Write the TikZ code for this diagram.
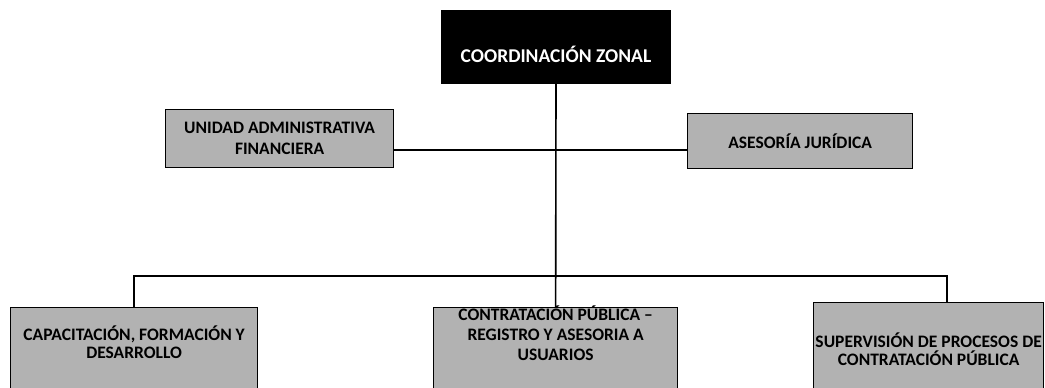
\documentclass[tikz,border=0pt]{standalone}
\usepackage{fontspec}
\setmainfont{Carlito}

\begin{document}
\begin{tikzpicture}[x=1pt,y=-1pt,
    unit/.style={draw=black,line width=1.3pt,fill=black!30,inner xsep=1pt,inner ysep=0pt,
      align=center,font=\fontsize{17.5}{18}\selectfont\bfseries},
    link/.style={draw=black,line width=1.6pt}]
  \useasboundingbox (0,0) rectangle (1045,388);

  \node[unit,fill=black,text=white,minimum width=228pt,minimum height=73pt,
        text height=30pt,text depth=0pt,font=\fontsize{19.5}{20}\selectfont\bfseries]
    (coord) at (556,47) {COORDINACIÓN ZONAL};

  \node[unit,anchor=north west,minimum width=228pt,minimum height=58pt,
        font=\fontsize{17.5}{21}\selectfont\bfseries]
    (uaf) at (165,109) {UNIDAD ADMINISTRATIVA\\FINANCIERA};
  \node[unit,anchor=north west,minimum width=225pt,minimum height=55pt]
    (jur) at (687,113) {ASESORÍA JURÍDICA};

  % bottom row: boxes run past the lower edge
  \node[unit,anchor=north west,minimum width=247pt,text height=51pt,text depth=100pt]
    (cap) at (10,307) {CAPACITACIÓN, FORMACIÓN Y\\DESARROLLO};
  \node[unit,anchor=north west,minimum width=244pt,text height=53pt,text depth=100pt,
        font=\fontsize{17.5}{20}\selectfont\bfseries]
    (cpub) at (433,307) {CONTRATACIÓN PÚBLICA –\\REGISTRO Y ASESORIA A\\USUARIOS};
  \node[unit,anchor=north west,minimum width=230pt,text height=63pt,text depth=100pt]
    (sup) at (813,302) {SUPERVISIÓN DE PROCESOS DE\\CONTRATACIÓN PÚBLICA};

  \coordinate (mid) at (556,150);
  \coordinate (hub) at (556,276);
  \coordinate (rbend) at (947,276);

  \draw[link] (coord.south) -- (cpub.north);
  \draw[link] (uaf.east |- mid) -- (jur.west |- mid);
  \draw[link] (cap.north) -- (cap.north |- hub) -- (rbend) -- (rbend |- sup.north);
\end{tikzpicture}
\end{document}
